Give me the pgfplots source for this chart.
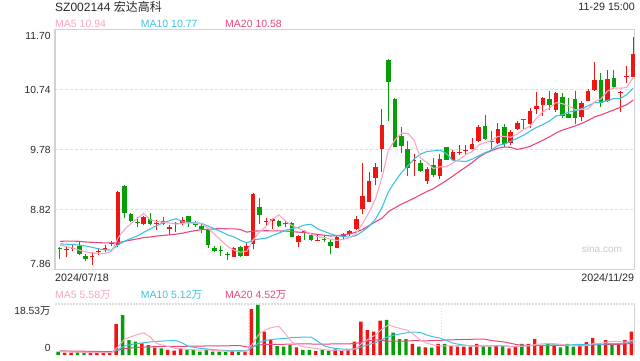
\documentclass[border=0pt]{standalone}
\usepackage{pgfplots}
\pgfplotsset{compat=1.18}
\usepackage{pgfplotstable}
\usepackage{fontspec}
\setmainfont{Liberation Sans}
\newfontfamily\cjk{Noto Sans CJK SC}
\definecolor{cred}{RGB}{238,22,18}
\definecolor{cgreen}{RGB}{8,158,8}
\definecolor{ma5}{RGB}{250,165,195}
\definecolor{ma10}{RGB}{60,195,225}
\definecolor{ma20}{RGB}{235,70,125}
\definecolor{framec}{RGB}{210,210,210}
\definecolor{gridc}{RGB}{222,222,222}
\definecolor{ctext}{RGB}{40,40,40}
\newcommand\fs[1]{\fontsize{#1bp}{#1bp}\selectfont}
\pgfplotsset{
  wick/.style={draw=none, mark=none, error bars/.cd, y dir=plus, y explicit, error mark=none,
    error bar style={draw=#1, line width=1bp, solid}},
  body/.style={draw=none, mark=none, error bars/.cd, y dir=plus, y explicit, error mark=none,
    error bar style={draw=#1, line width=4.6bp, solid}},
}

\pgfplotstableread{
i o h l c v
1 8.17 8.236 8.056 8.186 0.84
2 8.19 8.26 8.155 8.21 0.84
5 8.055 8.145 7.937 8.076 0.84
6 8.135 8.20 8.088 8.16 0.84
7 8.17 8.25 8.135 8.20 0.84
8 8.262 8.316 8.236 8.28 0.98
9 8.25 9.11 8.225 9.095 11.26
13 8.588 8.716 8.57 8.695 4.25
15 8.589 8.65 8.49 8.605 2.65
17 8.508 8.572 8.41 8.546 1.82
18 8.59 8.625 8.465 8.61 1.56
19 8.61 8.705 8.57 8.65 2.43
27 8.065 8.225 8.06 8.20 1.56
29 8.076 8.28 8.076 8.236 1.56
30 8.268 9.08 8.183 9.068 16.71
32 8.62 8.68 8.572 8.64 8.47
33 8.636 8.68 8.51 8.668 5.45
37 8.305 8.412 8.215 8.395 2.80
40 8.324 8.412 8.32 8.34 1.45
43 8.209 8.412 8.20 8.375 2.07
44 8.385 8.44 8.332 8.423 1.56
45 8.423 8.492 8.40 8.476 2.07
46 8.508 8.716 8.492 8.668 4.83
47 8.828 9.569 8.743 9.04 12.10
48 8.945 9.415 8.945 9.276 9.08
49 9.329 9.559 9.212 9.505 8.47
50 9.788 10.428 9.415 10.172 12.46
55 9.596 9.708 9.356 9.612 4.00
57 9.281 9.505 9.228 9.468 2.80
59 9.361 9.708 9.313 9.628 4.00
61 9.612 9.772 9.60 9.745 3.27
62 9.719 9.852 9.692 9.735 3.02
63 9.756 9.852 9.692 9.772 3.02
64 9.788 9.959 9.783 9.863 3.02
65 9.921 10.172 9.905 10.14 4.00
68 9.879 10.199 9.868 10.108 3.27
70 9.879 10.092 9.852 10.065 2.43
71 10.108 10.236 10.092 10.209 3.27
73 10.188 10.439 10.119 10.396 4.00
74 10.428 10.695 10.348 10.476 5.81
75 10.492 10.625 10.321 10.599 3.27
77 10.412 10.705 10.385 10.689 3.27
81 10.305 10.556 10.236 10.529 3.27
82 10.561 10.748 10.561 10.721 4.72
83 10.732 11.175 10.72 10.892 6.18
85 10.561 11.052 10.545 10.908 5.45
87 10.679 10.721 10.385 10.695 4.00
88 10.94 11.116 10.839 10.956 5.45
89 10.945 11.585 10.935 11.30 8.47
}\redtab

\pgfplotstableread{
i o h l c v
0 8.20 8.225 8.023 8.184 1.20
3 8.236 8.316 8.10 8.113 0.98
4 8.076 8.108 8.0 8.033 0.84
10 9.196 9.21 8.68 8.76 14.53
11 8.748 8.76 8.62 8.64 5.45
12 8.616 8.705 8.535 8.60 4.83
14 8.663 8.77 8.57 8.588 3.63
16 8.64 8.705 8.57 8.588 2.43
20 8.716 8.716 8.535 8.625 1.82
21 8.61 8.64 8.535 8.57 1.82
22 8.556 8.588 8.45 8.503 1.20
23 8.503 8.52 8.21 8.25 2.07
24 8.20 8.236 8.145 8.16 1.20
25 8.166 8.23 8.08 8.15 1.20
26 8.116 8.145 8.012 8.10 1.09
28 8.215 8.236 8.065 8.076 1.34
31 8.855 8.999 8.588 8.732 18.17
34 8.64 8.652 8.535 8.556 3.27
35 8.601 8.64 8.545 8.585 3.02
36 8.599 8.615 8.375 8.385 3.63
38 8.481 8.492 8.332 8.465 1.82
39 8.412 8.44 8.32 8.332 1.82
41 8.356 8.412 8.305 8.34 1.82
42 8.305 8.332 8.108 8.236 1.56
51 11.212 11.223 10.236 10.865 12.72
52 10.588 10.60 9.815 9.825 8.10
53 10.00 10.145 9.729 9.84 5.81
54 9.788 9.921 9.356 9.489 5.81
56 9.559 9.612 9.425 9.44 3.02
58 9.532 9.639 9.335 9.372 2.65
60 9.815 9.825 9.612 9.617 4.00
66 10.156 10.332 9.932 9.943 3.27
67 9.911 10.081 9.788 9.895 3.02
69 10.135 10.188 9.825 9.863 3.27
72 10.263 10.263 10.103 10.247 4.00
76 10.588 10.716 10.412 10.492 4.00
78 10.62 10.679 10.279 10.316 2.80
79 10.348 10.609 10.279 10.289 4.00
80 10.588 10.716 10.183 10.289 3.02
84 10.892 11.0 10.465 10.519 4.25
86 10.919 11.052 10.743 10.785 4.25
}\greentab

\pgfplotstableread{
i m5 m10 m20 vm5 vm10 vm20
0 8.250 8.270 8.310 1.28 1.38 1.49
1 8.230 8.265 8.315 1.19 1.32 1.45
2 8.200 8.260 8.315 1.10 1.27 1.42
3 8.170 8.250 8.310 1.03 1.23 1.39
4 8.144 8.235 8.300 0.94 1.17 1.36
5 8.122 8.215 8.295 0.87 1.11 1.33
6 8.118 8.190 8.290 0.87 1.06 1.29
7 8.116 8.175 8.285 0.87 1.00 1.26
8 8.150 8.170 8.285 0.87 0.96 1.24
9 8.362 8.253 8.290 2.95 1.95 1.72
10 8.499 8.311 8.310 5.69 3.28 2.37
11 8.595 8.357 8.330 6.61 3.74 2.57
12 8.675 8.396 8.350 7.41 4.14 2.74
13 8.758 8.454 8.370 8.06 4.47 2.88
14 8.657 8.509 8.380 6.54 4.75 2.98
15 8.626 8.562 8.395 4.16 4.93 3.04
16 8.615 8.605 8.405 3.56 5.09 3.09
17 8.604 8.640 8.415 2.96 5.18 3.10
18 8.587 8.673 8.425 2.42 5.24 3.11
19 8.600 8.628 8.441 2.18 4.36 3.15
20 8.604 8.615 8.463 2.01 3.09 3.18
21 8.600 8.608 8.482 1.89 2.72 3.23
22 8.592 8.598 8.497 1.77 2.36 3.25
23 8.520 8.554 8.504 1.87 2.14 3.30
24 8.422 8.511 8.510 1.62 1.90 3.32
25 8.327 8.465 8.514 1.50 1.76 3.34
26 8.233 8.416 8.511 1.35 1.62 3.35
27 8.172 8.382 8.511 1.42 1.60 3.39
28 8.137 8.328 8.501 1.28 1.57 3.41
29 8.152 8.287 8.458 1.35 1.49 2.92
30 8.336 8.331 8.473 4.45 2.98 3.03
31 8.462 8.348 8.478 7.87 4.61 3.67
32 8.550 8.361 8.480 9.25 5.34 3.85
33 8.669 8.403 8.478 10.07 5.68 3.91
34 8.733 8.443 8.477 10.41 5.88 3.89
35 8.636 8.486 8.476 7.68 6.06 3.91
36 8.567 8.515 8.466 4.77 6.32 3.97
37 8.518 8.534 8.458 3.63 6.44 4.02
38 8.477 8.573 8.451 2.91 6.49 4.03
39 8.432 8.583 8.435 2.62 6.52 4.00
40 8.383 8.510 8.421 2.30 4.99 3.98
41 8.374 8.471 8.409 1.94 3.36 3.98
42 8.343 8.430 8.396 1.69 2.66 4.00
43 8.325 8.401 8.402 1.74 2.33 4.00
44 8.343 8.388 8.415 1.69 2.16 4.02
45 8.370 8.377 8.431 1.82 2.06 4.06
46 8.436 8.405 8.460 2.42 2.18 4.25
47 8.596 8.470 8.502 4.53 3.11 4.78
48 8.777 8.551 8.562 5.93 3.84 5.16
49 8.993 8.668 8.625 7.31 4.50 5.51
50 9.332 8.851 8.680 9.39 5.60 5.30
51 9.772 9.104 8.787 10.97 6.69 5.02
52 9.929 9.263 8.846 10.17 7.35 5.01
53 10.041 9.409 8.905 9.51 7.72 5.02
54 10.038 9.516 8.952 8.98 8.15 5.15
55 9.926 9.629 9.003 7.29 8.34 5.20
56 9.641 9.706 9.056 5.35 8.16 5.17
57 9.570 9.749 9.109 4.29 7.23 5.17
58 9.476 9.759 9.155 3.66 6.58 5.21
59 9.504 9.771 9.220 3.29 6.14 5.32
60 9.505 9.716 9.283 3.29 5.29 5.45
61 9.566 9.604 9.354 3.34 4.35 5.52
62 9.619 9.595 9.429 3.39 3.84 5.59
63 9.699 9.588 9.498 3.46 3.56 5.64
64 9.746 9.625 9.570 3.27 3.28 5.71
65 9.851 9.678 9.654 3.27 3.28 5.81
66 9.891 9.728 9.717 3.27 3.31 5.73
67 9.923 9.771 9.760 3.27 3.33 5.28
68 9.990 9.845 9.802 3.32 3.39 4.99
69 9.990 9.868 9.820 3.37 3.32 4.73
70 9.975 9.913 9.814 3.05 3.16 4.23
71 10.028 9.959 9.781 3.05 3.16 3.75
72 10.098 10.011 9.803 3.25 3.26 3.55
73 10.156 10.073 9.830 3.39 3.36 3.46
74 10.279 10.134 9.880 3.90 3.63 3.46
75 10.385 10.180 9.929 4.07 3.56 3.42
76 10.442 10.235 9.982 4.22 3.63 3.47
77 10.530 10.314 10.043 4.07 3.66 3.49
78 10.514 10.335 10.090 3.83 3.61 3.50
79 10.477 10.378 10.123 3.47 3.69 3.50
80 10.415 10.400 10.157 3.42 3.74 3.45
81 10.422 10.432 10.196 3.27 3.74 3.45
82 10.429 10.480 10.245 3.56 3.82 3.54
83 10.544 10.529 10.301 4.24 4.03 3.69
84 10.590 10.534 10.334 4.29 3.88 3.76
85 10.714 10.564 10.372 4.77 4.10 3.83
86 10.765 10.594 10.414 4.97 4.12 3.88
87 10.760 10.594 10.454 4.83 4.19 3.93
88 10.773 10.658 10.497 4.68 4.46 4.04
89 10.929 10.759 10.569 5.52 4.91 4.30
}\matab

\begin{document}
\begin{tikzpicture}[x=1bp,y=1bp]
\useasboundingbox (0,0) rectangle (640,360);
% ---------- price panel ----------
\begin{axis}[
  at={(55bp,90.5bp)}, anchor=south west,
  width=579.3bp, height=240bp, scale only axis,
  xmin=-0.776, xmax=89.18, ymin=7.86, ymax=11.70,
  axis line style={draw=framec, line width=1.2bp},
  xtick=\empty, ytick={8.82,9.78,10.74}, yticklabels={},
  major tick length=0pt,
  ymajorgrids,
  major grid style={draw=gridc, line width=1.6bp, dash pattern=on 2.5bp off 2.5bp},
  clip=false,
]
% wicks
\addplot[wick=cred] table[x=i, y=l, y error expr=\thisrow{h}-\thisrow{l}] {\redtab};
\addplot[wick=cgreen] table[x=i, y=l, y error expr=\thisrow{h}-\thisrow{l}] {\greentab};
% bodies
\addplot[body=cred] table[x=i, y=o, y error expr=\thisrow{c}-\thisrow{o}] {\redtab};
\addplot[body=cgreen] table[x=i, y=c, y error expr=\thisrow{o}-\thisrow{c}] {\greentab};
% moving averages
\addplot[ma20, line width=1.1bp, mark=none] table[x=i, y=m20] {\matab};
\addplot[ma10, line width=1.1bp, mark=none] table[x=i, y=m10] {\matab};
\addplot[ma5, line width=1.1bp, mark=none] table[x=i, y=m5] {\matab};
\end{axis}
% ---------- volume panel ----------
\begin{axis}[
  at={(55bp,5bp)}, anchor=south west,
  width=579.3bp, height=51bp, scale only axis,
  xmin=-0.776, xmax=89.18, ymin=0, ymax=18.53,
  axis lines=none, xtick=\empty, ytick=\empty,
  clip=false,
]
\draw[gridc, line width=1.4bp, dash pattern=on 1.5bp off 1.5bp] (axis cs:-0.776,18.53) -- (axis cs:89.18,18.53);
\draw[gridc, line width=1.2bp, dash pattern=on 1.5bp off 1.5bp] (axis cs:29.24,18.2) -- (axis cs:29.24,0);
\draw[gridc, line width=1.2bp, dash pattern=on 1.5bp off 1.5bp] (axis cs:59.27,18.2) -- (axis cs:59.27,0);
\draw[framec, line width=1.2bp] (axis cs:89.18,18.53) -- (axis cs:89.18,0);
\addplot[ybar, bar width=3.4bp, bar shift=-1.8bp, fill=cred, draw=none] table[x=i, y=v] {\redtab};
\addplot[ybar, bar width=3.4bp, bar shift=-1.8bp, fill=cgreen, draw=none] table[x=i, y=v] {\greentab};
\addplot[ma20, line width=1bp, mark=none] table[x=i, y=vm20] {\matab};
\addplot[ma10, line width=1bp, mark=none] table[x=i, y=vm10] {\matab};
\addplot[ma5, line width=1bp, mark=none] table[x=i, y=vm5] {\matab};
\end{axis}
% ---------- texts ----------
\node[anchor=base west, inner sep=0, text=ctext] at (55,348.3) {\fs{12}SZ002144 {\cjk 宏达高科}};
\node[anchor=base east, inner sep=0, text=ctext] at (635,350) {\fs{10.7}11-29 15:00};
\node[anchor=base west, inner sep=0, text=ma5] at (55,332.7) {\fs{10.5}MA5 10.94};
\node[anchor=base west, inner sep=0, text=ma10] at (140.7,332.7) {\fs{10.5}MA10 10.77};
\node[anchor=base west, inner sep=0, text=ma20] at (225,332.7) {\fs{10.5}MA20 10.58};
\node[anchor=base east, inner sep=0, text=ctext] at (50.7,321) {\fs{10.3}11.70};
\node[anchor=base east, inner sep=0, text=ctext] at (50.7,266.7) {\fs{10.3}10.74};
\node[anchor=base east, inner sep=0, text=ctext] at (50.7,206.7) {\fs{10.3}9.78};
\node[anchor=base east, inner sep=0, text=ctext] at (50.7,146.7) {\fs{10.3}8.82};
\node[anchor=base east, inner sep=0, text=ctext] at (50.7,92.7) {\fs{10.3}7.86};
\node[anchor=base west, inner sep=0, text=ctext] at (55,78.3) {\fs{10.7}2024/07/18};
\node[anchor=base east, inner sep=0, text=ctext] at (634.3,78.3) {\fs{10.7}2024/11/29};
\node[anchor=base west, inner sep=0, text=black!22] at (581.7,108) {\fs{10}sina.com};
\node[anchor=base west, inner sep=0, text=ma5] at (55,62) {\fs{10.5}MA5 5.58{\cjk 万}};
\node[anchor=base west, inner sep=0, text=ma10] at (140.7,62) {\fs{10.5}MA10 5.12{\cjk 万}};
\node[anchor=base west, inner sep=0, text=ma20] at (225,62) {\fs{10.5}MA20 4.52{\cjk 万}};
\node[anchor=base east, inner sep=0, text=ctext] at (50.7,45.7) {\fs{10.3}18.53{\cjk 万}};
\node[anchor=base east, inner sep=0, text=ctext] at (50.7,8.3) {\fs{10.3}0};
\end{tikzpicture}
\end{document}
